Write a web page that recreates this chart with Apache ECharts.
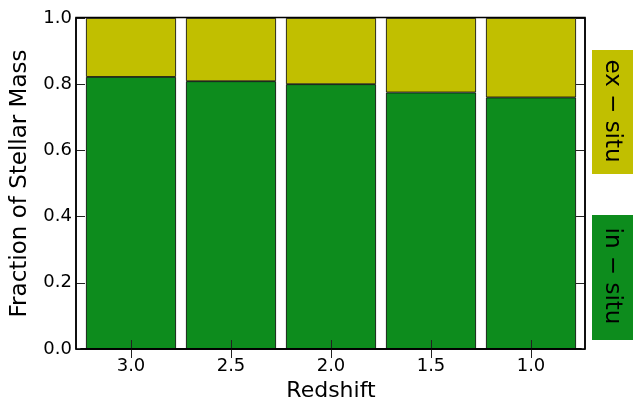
<!DOCTYPE html>
<html>
<head>
<meta charset="utf-8">
<script src="https://cdn.jsdelivr.net/npm/echarts@6/dist/echarts.min.js"></script>
<style>
  html, body { margin: 0; padding: 0; background: #fff; }
  #chart { width: 633px; height: 401px; }
</style>
</head>
<body>
<div id="chart"></div>
<script>
// redshift bins, left to right
const redshifts = ['3.0', '2.5', '2.0', '1.5', '1.0'];
// fraction of stellar mass
const inSitu = [0.822, 0.809, 0.800, 0.775, 0.760];
const exSitu = [0.178, 0.191, 0.200, 0.225, 0.240];

const green = '#0d8c1d';
const olive = '#c1bf00';
const font = 'DejaVu Sans';
const tickStyle = { color: '#222', width: 1 };
const lineStyle = { color: '#000', width: 1.5 };

const chart = echarts.init(document.getElementById('chart'));

chart.setOption({
    animation: false,
    grid: { left: 81, right: 52, top: 18, bottom: 52, outerBoundsMode: 'none', containLabel: false },
    xAxis: [
        {
            type: 'category',
            data: redshifts,
            position: 'bottom',
            z: 5,
            axisLine: { show: true, lineStyle: lineStyle },
            axisTick: { show: true, inside: true, alignWithLabel: true, length: 9, lineStyle: tickStyle },
            axisLabel: { color: '#000', fontFamily: font, fontSize: 18, margin: 8 },
            name: 'Redshift',
            nameLocation: 'middle',
            nameGap: 31,
            nameTextStyle: { color: '#000', fontFamily: font, fontSize: 22 }
        },
        {
            type: 'category',
            data: redshifts,
            position: 'top',
            z: 5,
            axisLine: { show: true, lineStyle: lineStyle },
            axisTick: { show: true, inside: true, alignWithLabel: true, length: 9, lineStyle: tickStyle },
            axisLabel: { show: false }
        }
    ],
    yAxis: [
        {
            type: 'value',
            min: 0,
            max: 1,
            interval: 0.2,
            position: 'left',
            offset: 5,
            z: 5,
            splitLine: { show: false },
            axisLine: { show: true, lineStyle: lineStyle },
            axisTick: { show: true, inside: true, length: 9, lineStyle: tickStyle },
            axisLabel: {
                color: '#000', fontFamily: font, fontSize: 18, margin: 4,
                formatter: v => v.toFixed(1)
            },
            name: 'Fraction of Stellar Mass',
            nameLocation: 'middle',
            nameGap: 44,
            nameTextStyle: { color: '#000', fontFamily: font, fontSize: 23 }
        },
        {
            type: 'value',
            min: 0,
            max: 1,
            interval: 0.2,
            position: 'right',
            offset: 4,
            z: 5,
            splitLine: { show: false },
            axisLine: { show: true, lineStyle: lineStyle },
            axisTick: { show: true, inside: true, length: 9, lineStyle: tickStyle },
            axisLabel: { show: false }
        }
    ],
    series: [
        {
            name: 'in-situ',
            type: 'bar',
            stack: 'mass',
            barWidth: 90,
            data: inSitu,
            itemStyle: { color: green, borderColor: '#000', borderWidth: 0.8 }
        },
        {
            name: 'ex-situ',
            type: 'bar',
            stack: 'mass',
            barWidth: 90,
            data: exSitu,
            itemStyle: { color: olive, borderColor: '#000', borderWidth: 0.8 }
        }
    ],
    graphic: [
        // plot frame
        {
            type: 'rect',
            z: 100,
            shape: { x: 76, y: 17.5, width: 509, height: 331.5 },
            style: { fill: 'none', stroke: '#000', lineWidth: 1.5 }
        },
        // legend boxes, rotated text
        {
            type: 'rect',
            shape: { x: 592, y: 50, width: 41, height: 124 },
            style: { fill: olive }
        },
        {
            type: 'text',
            x: 612, y: 111,
            rotation: -Math.PI / 2,
            style: {
                text: 'ex \u2212 situ', fontFamily: font, fontSize: 23, fill: '#000',
                align: 'center', verticalAlign: 'middle'
            }
        },
        {
            type: 'rect',
            shape: { x: 592, y: 215, width: 41, height: 125 },
            style: { fill: green }
        },
        {
            type: 'text',
            x: 612, y: 276,
            rotation: -Math.PI / 2,
            style: {
                text: 'in \u2212 situ', fontFamily: font, fontSize: 23, fill: '#000',
                align: 'center', verticalAlign: 'middle'
            }
        }
    ]
});
</script>
</body>
</html>
